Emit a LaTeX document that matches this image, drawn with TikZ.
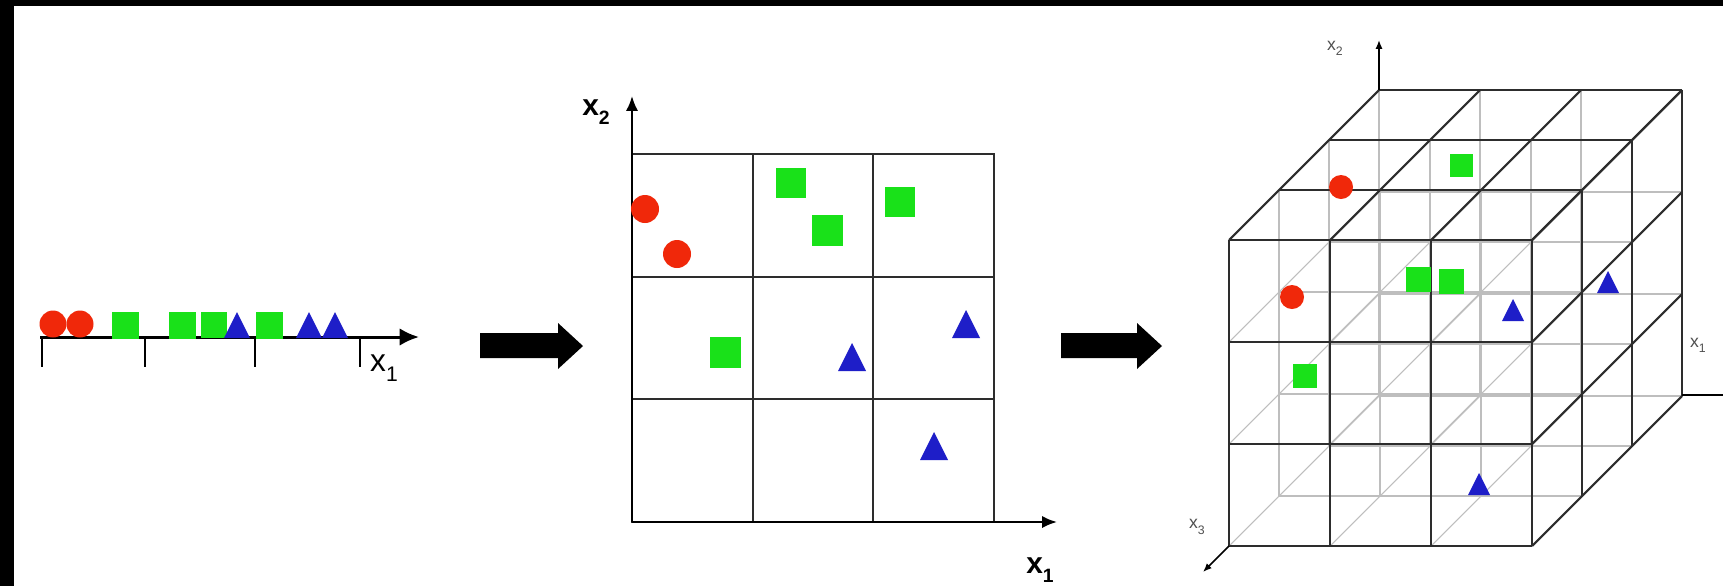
\documentclass[tikz,border=0pt]{standalone}
\usepackage{fontspec}
\setmainfont{Liberation Sans}
\usetikzlibrary{arrows.meta}
\definecolor{cred}{RGB}{240,40,10}
\definecolor{cgreen}{RGB}{25,225,25}
\definecolor{cblue}{RGB}{30,30,200}
\definecolor{cline}{RGB}{45,45,45}
\definecolor{cthin}{RGB}{190,190,190}
\definecolor{clab}{RGB}{80,80,80}
\newcommand\axlab[3]{{\fontsize{#1}{#1}\selectfont x\raisebox{-0.3em}{\fontsize{#2}{#2}\selectfont #3}}}
\begin{document}
\begin{tikzpicture}[x=0.02cm,y=-0.02cm,
  redc/.pic={\fill[cred] (0,0) circle (#1);},
  grnsq/.pic={\fill[cgreen] (-#1,-#1) rectangle (#1,#1);},
  bltri/.pic={\fill[cblue] (-#1,#1) -- (0,-#1) -- (#1,#1) -- cycle;},
  ax1/.style={line width=1.7pt,black,-{Latex[length=11pt,width=10pt]}},
  tickln/.style={line width=1.7pt,black},
  ax2/.style={line width=1.3pt,black,-{Latex[length=8.5pt,width=7pt]}},
  grid2/.style={line width=1.1pt,cline},
  ax3/.style={line width=0.9pt,black,-{Latex[length=5pt,width=4pt]}},
  heavy/.style={line width=1.2pt,cline},
  thin3/.style={line width=0.6pt,cthin},
  lab/.style={inner sep=0pt,text=black},
  blockarrow/.style={fill=black},
]
\useasboundingbox (0,0) rectangle (1723,586);
\fill[white] (0,0) rectangle (1723,586);
\fill[black] (0,0) rectangle (1723,6);
\fill[black] (0,0) rectangle (14,586);

% ---------- panel 1 ----------
\coordinate (p1s) at (40,337);
\coordinate (p1e) at (419,337);
\draw[ax1] (p1s) -- (p1e);
\foreach \x in {42,145,255,360} \draw[tickln] (\x,337) -- (\x,367);
\pic at (53,324) {redc=13.5};
\pic at (80,324) {redc=13.5};
\pic at (125,325) {grnsq=13.5};
\pic at (182,325) {grnsq=13.5};
\pic at (214,325) {grnsq=13};
\pic at (237,325) {bltri=13};
\pic at (269,325) {grnsq=13.5};
\pic at (309,325) {bltri=13};
\pic at (335,325) {bltri=13};
\node[lab] (l1) at (384,368) {\axlab{18}{12}{1}};

% ---------- block arrows ----------
\fill[blockarrow] (480,333) -- (558,333) -- (558,323) -- (583,346) -- (558,369) -- (558,358) -- (480,358) -- cycle;
\fill[blockarrow] (1061,333) -- (1137,333) -- (1137,323) -- (1162,346) -- (1137,369) -- (1137,358) -- (1061,358) -- cycle;

% ---------- panel 2 ----------
\draw[grid2] (632,154) rectangle (994,522);
\draw[grid2] (753,154) -- (753,522);
\draw[grid2] (873,154) -- (873,522);
\draw[grid2] (632,277) -- (994,277);
\draw[grid2] (632,399) -- (994,399);
\coordinate (o2) at (632,522);
\coordinate (x2e) at (1057,522);
\coordinate (y2e) at (632,96);
\draw[ax2] (o2) -- (x2e);
\draw[ax2] (o2) -- (y2e);
\node[lab] (l2a) at (596,112) {\bfseries\axlab{17}{11}{2}};
\node[lab] (l2b) at (1040,570) {\bfseries\axlab{17}{11}{1}};
\pic at (645,209) {redc=14};
\pic at (677,254) {redc=14};
\pic at (791,183) {grnsq=15};
\pic at (827,230) {grnsq=15.5};
\pic at (900,202) {grnsq=15};
\pic at (725,352) {grnsq=15.5};
\pic at (852,357) {bltri=14};
\pic at (966,324) {bltri=14};
\pic at (934,446) {bltri=14};

% ---------- panel 3 ----------
\foreach \d in {1,2,3} {
  \foreach \i in {0,1,2} \draw[thin3] ({1229+101*\i+50*\d},{240-50*\d}) -- ++(0,306);
  \foreach \j in {1,2,3} \draw[thin3] ({1229+50*\d},{240+102*\j-50*\d}) -- ++(303,0);
}
\foreach \i in {0,1,2} \foreach \j in {1,2,3}
  \draw[thin3] ({1229+101*\i},{240+102*\j}) -- ++(150,-150);
\foreach \i in {0,...,3} {
  \draw[heavy] ({1229+101*\i},240) -- ++(0,306);
  \draw[heavy] ({1229+101*\i},240) -- ++(150,-150);
}
\foreach \j in {0,...,3} {
  \draw[heavy] (1229,{240+102*\j}) -- ++(303,0);
  \draw[heavy] (1532,{240+102*\j}) -- ++(150,-150);
}
\foreach \d in {1,2,3} {
  \draw[heavy] ({1229+50*\d},{240-50*\d}) -- ++(303,0);
  \draw[heavy] ({1532+50*\d},{240-50*\d}) -- ++(0,306);
}
\coordinate (c3b) at (1379,90);
\coordinate (c3r) at (1682,395);
\coordinate (c3f) at (1229,546);
\coordinate (x3a) at (1379,40);
\coordinate (x3b) at (1736,395);
\coordinate (x3c) at (1203,572);
\draw[ax3] (c3b) -- (x3a);
\draw[ax3] (c3r) -- (x3b);
\draw[ax3] (c3f) -- (x3c);
\node[lab,text=clab] (l3a) at (1335,48) {\axlab{10}{7}{2}};
\node[lab,text=clab] (l3b) at (1698,345) {\axlab{10}{7}{1}};
\node[lab,text=clab] (l3c) at (1197,527) {\axlab{10}{7}{3}};
\pic at (1341,187) {redc=12};
\pic at (1461,165) {grnsq=11.5};
\pic at (1292,297) {redc=12};
\pic at (1418,279) {grnsq=12.5};
\pic at (1451,281) {grnsq=12.5};
\pic at (1513,310) {bltri=11};
\pic at (1608,282) {bltri=11};
\pic at (1305,376) {grnsq=12};
\pic at (1479,484) {bltri=11};
\end{tikzpicture}
\end{document}
